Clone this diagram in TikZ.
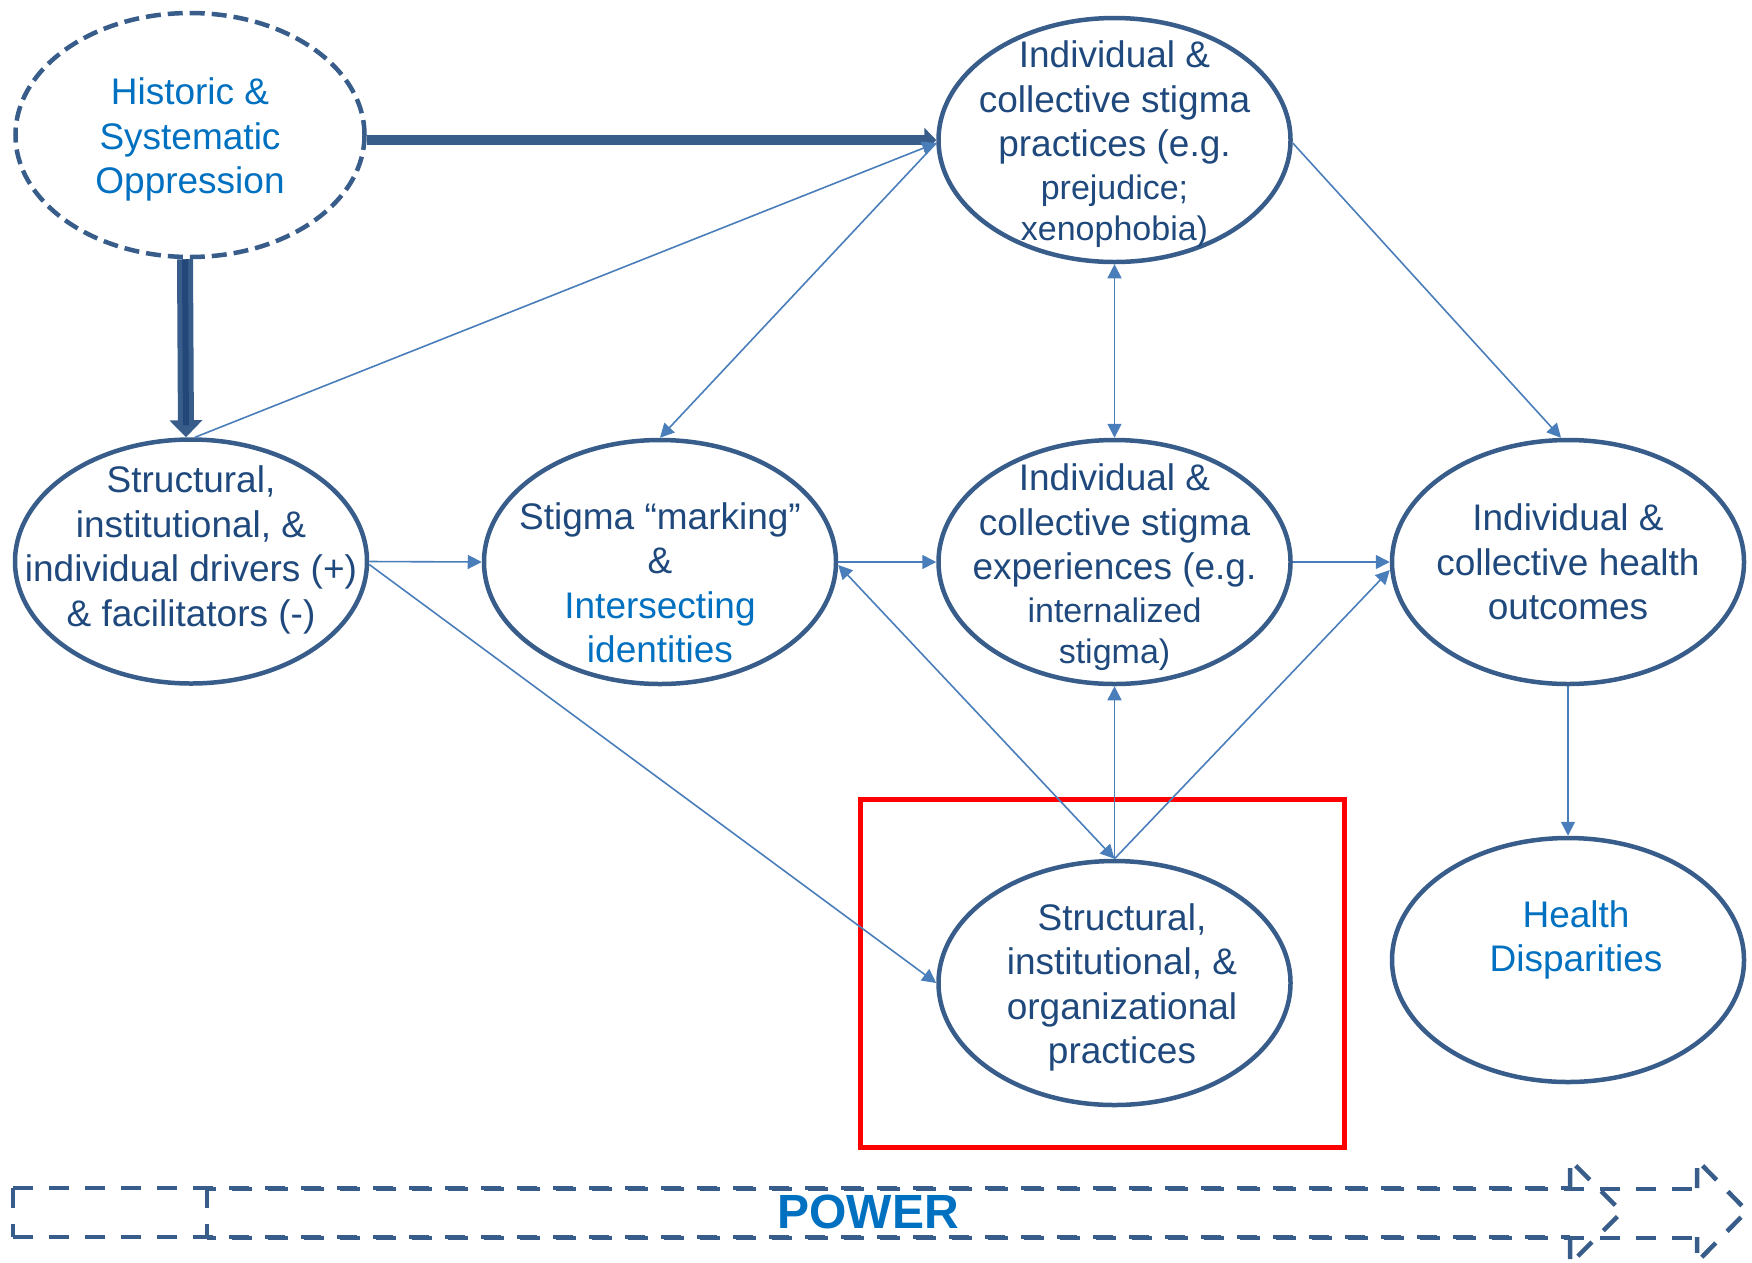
\documentclass[tikz,border=0pt]{standalone}
\usepackage{fontspec}
\setmainfont{Liberation Sans}
\usetikzlibrary{arrows.meta,shapes.geometric}
\definecolor{outl}{HTML}{385D8A}
\definecolor{navy}{HTML}{1F497D}
\definecolor{brightblue}{HTML}{0070C0}
\definecolor{linec}{HTML}{4A7EBB}
\definecolor{darkin}{HTML}{24477A}
\newcommand\smlline[1]{{\fontsize{34}{42}\selectfont #1}}
\begin{document}
\begin{tikzpicture}[x=1pt,y=-1pt,
  oval/.style={ellipse, draw=outl, fill=white, line width=4.5pt, minimum width=352pt, minimum height=244pt, inner sep=0pt},
  lbl/.style={align=center, text=navy, font=\fontsize{37}{44.5}\selectfont, inner sep=0pt},
  conn/.style={draw=linec, line width=1.6pt},
  arr/.style={-{Triangle[length=14pt,width=14pt]}},
  twoway/.style={{Triangle[length=14pt,width=14pt]}-{Triangle[length=14pt,width=14pt]}},
  powerarrow/.style={draw=outl, line width=4.5pt, dash pattern=on 20pt off 16pt},
]
\useasboundingbox (0,0) rectangle (1752,1262);

% red frame
\node[draw=red, line width=5pt, minimum width=484pt, minimum height=348pt, inner sep=0pt] (frame) at (1102,973) {};

% ellipses
\node[oval, minimum width=349pt, dash pattern=on 15pt off 7pt] (H) at (190,135) {};
\node[oval] (P) at (1114.5,140) {};
\node[oval] (D) at (191,561.5) {};
\node[oval] (M) at (660,562) {};
\node[oval] (E) at (1114.5,562) {};
\node[oval] (O) at (1568,562) {};
\node[oval] (Org) at (1114.5,983) {};
\node[oval] (HD) at (1568,960) {};

% texts
\node[lbl, text=brightblue] (Ht) at (190,139.5) {Historic \&\\Systematic\\Oppression};
\node[lbl] (Pt) at (1114.5,144.5) {Individual \&\\collective stigma\\practices (e.g.\\[-2pt]\smlline{prejudice;}\\[-3pt]\smlline{xenophobia)}};
\node[lbl] (Dt) at (191,550) {Structural,\\institutional, \&\\individual drivers (+)\\\& facilitators (-)};
\node[lbl] (Mt) at (660,583) {Stigma “marking”\\\&\\\textcolor{brightblue}{Intersecting}\\\textcolor{brightblue}{identities}};
\node[lbl] (Et) at (1114.5,567.5) {Individual \&\\collective stigma\\experiences (e.g.\\[-2pt]\smlline{internalized}\\[-3pt]\smlline{stigma)}};
\node[lbl] (Ot) at (1568,562) {Individual \&\\collective health\\outcomes};
\node[lbl] (Orgt) at (1122,987.5) {Structural,\\institutional, \&\\organizational\\practices};
\node[lbl, text=brightblue] (HDt) at (1576,940) {Health\\Disparities};

% thick arrows
\draw[outl, line width=10pt, -{Triangle[length=12pt,width=24pt]}] (H.east |- P.west) -- (P.west);
\draw[outl, line width=16pt, -{Triangle[length=17pt,width=32pt]}] ([xshift=-5pt]H.south) -- ([xshift=-5pt]D.north);
\draw[darkin, line width=6pt, shorten >=12pt] ([xshift=-5pt]H.south) -- ([xshift=-5pt]D.north);

% thin connectors
\draw[conn, arr] ([xshift=4pt]D.north) -- ([yshift=-3pt]P.west);
\draw[conn, arr] ([yshift=-3pt]P.west) -- (M.north);
\draw[conn, twoway] (P.south) -- (E.north);
\draw[conn, arr] ([yshift=-3pt]P.east) -- ([xshift=-7pt]O.north);
\draw[conn, arr] (D.east) -- (M.west);
\draw[conn, arr] (M.east) -- (E.west);
\draw[conn, arr] (E.east) -- (O.west);
\draw[conn, arr] ([yshift=-3pt]D.east) -- (Org.west);
\draw[conn, twoway] ([yshift=-3pt]M.east) -- (Org.north);
\draw[conn, arr] (Org.north) -- (E.south);
\draw[conn, arr] (Org.north) -- ([yshift=-8pt]O.west);
\draw[conn, arr] (O.south) -- (HD.north);

% power arrows (two overlapping dashed block arrows)
\draw[powerarrow] (13,1188) -- (1570,1188);
\draw[powerarrow] (13,1237) -- (1570,1237);
\draw[powerarrow] (13,1188) -- (13,1237);
\draw[powerarrow] (1570,1188) -- (1570,1160) -- (1622,1212) -- (1570,1264) -- (1570,1237);
\draw[powerarrow, dash phase=11pt] (207,1189) -- (1697,1189);
\draw[powerarrow, dash phase=11pt] (207,1238) -- (1697,1238);
\draw[powerarrow] (207,1188) -- (207,1237);
\draw[powerarrow] (1697,1188) -- (1697,1160) -- (1747,1211) -- (1697,1262) -- (1697,1237);
\node[text=brightblue, font=\bfseries\fontsize{48}{52}\selectfont, inner sep=0pt] (pw) at (868,1212) {POWER};
\end{tikzpicture}
\end{document}
